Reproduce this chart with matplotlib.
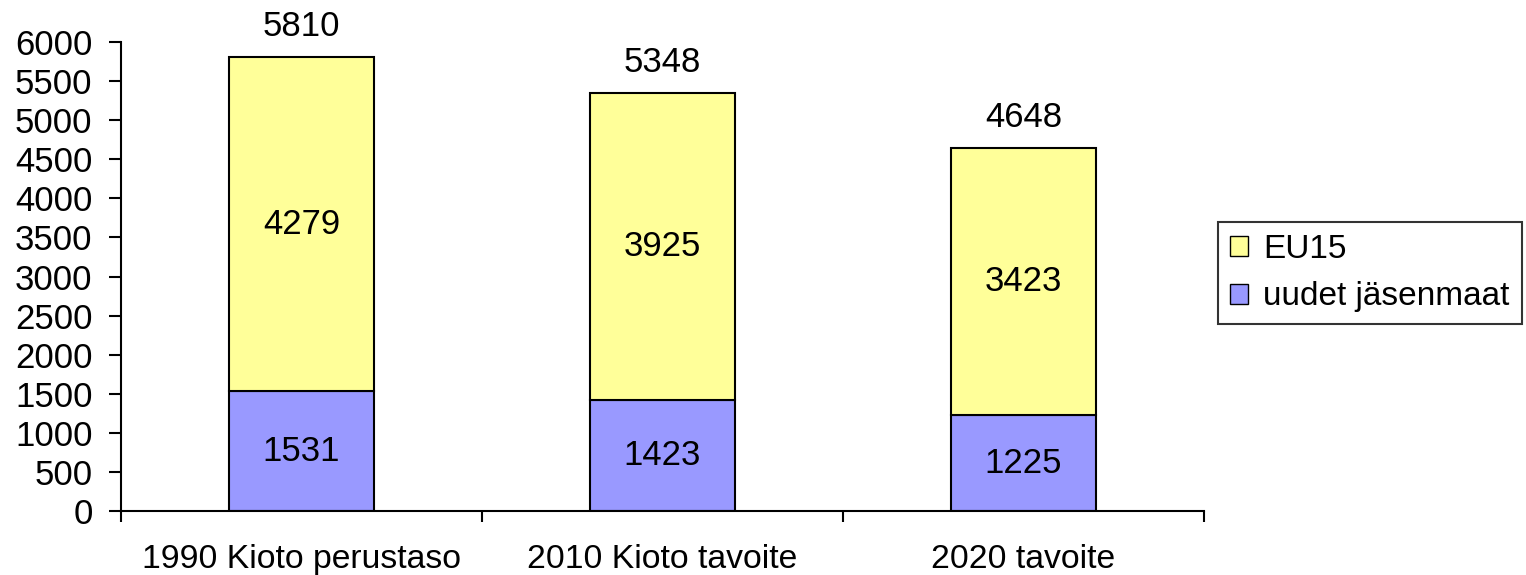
import matplotlib
matplotlib.use("Agg")
import matplotlib.pyplot as plt
from matplotlib.patches import Patch

categories = ["1990 Kioto perustaso", "2010 Kioto tavoite", "2020 tavoite"]
uudet = [1531, 1423, 1225]
eu15 = [4279, 3925, 3423]
totals = [5810, 5348, 4648]
yticks = [0, 500, 1000, 1500, 2000, 2500, 3000, 3500, 4000, 4500, 5000, 5500, 6000]

plt.rcParams['font.family'] = ['Liberation Sans', 'DejaVu Sans']
FS = 25

fig = plt.figure(figsize=(15.26, 5.75), dpi=100)
ax = fig.add_axes([121/1526, 1-511/575, (1204-121)/1526, (511-42)/575])

x = list(range(len(categories)))
w = 0.40
ax.bar(x, uudet, width=w, color="#9999FF", edgecolor="black", linewidth=1.5, label="uudet jäsenmaat")
ax.bar(x, eu15, width=w, bottom=uudet, color="#FFFF99", edgecolor="black", linewidth=1.5, label="EU15")

for i in x:
    ax.text(i, uudet[i] / 2, str(uudet[i]), ha="center", va="center", fontsize=FS)
    ax.text(i, uudet[i] + eu15[i] / 2, str(eu15[i]), ha="center", va="center", fontsize=FS)
    ax.annotate(str(totals[i]), (i, totals[i]), xytext=(0, 22), textcoords="offset points",
                ha="center", va="center", fontsize=FS, annotation_clip=False)

ax.set_xlim(-0.5, 2.5)
ax.set_ylim(0, 6000)
ax.set_yticks(yticks)
ax.set_yticklabels([str(v) for v in yticks], fontsize=FS)
ax.set_xticks([-0.5, 0.5, 1.5, 2.5])
ax.set_xticklabels([])
ax.set_xticks(x, minor=True)
ax.set_xticklabels(categories, minor=True, fontsize=24.3)
ax.tick_params(axis="x", which="minor", length=0, pad=24)
ax.tick_params(axis="x", which="major", length=8, width=1.5, direction="out")
ax.tick_params(axis="y", length=8.5, width=1.5, direction="out", pad=12)
for s in ["top", "right"]:
    ax.spines[s].set_visible(False)
for s in ["left", "bottom"]:
    ax.spines[s].set_linewidth(1.5)

handles = [Patch(facecolor="#FFFF99", edgecolor="black", label="EU15"),
           Patch(facecolor="#9999FF", edgecolor="black", label="uudet jäsenmaat")]
leg = fig.legend(handles=handles, loc="center", bbox_to_anchor=(1370/1526, 1-273/575),
                 fontsize=24, frameon=True, fancybox=False, edgecolor="black",
                 handlelength=0.55, handleheight=0.55, handletextpad=0.45,
                 borderpad=0.35, labelspacing=0.5, borderaxespad=0)
leg.get_frame().set_linewidth(1.5)

fig.savefig("out.png", dpi=100)
